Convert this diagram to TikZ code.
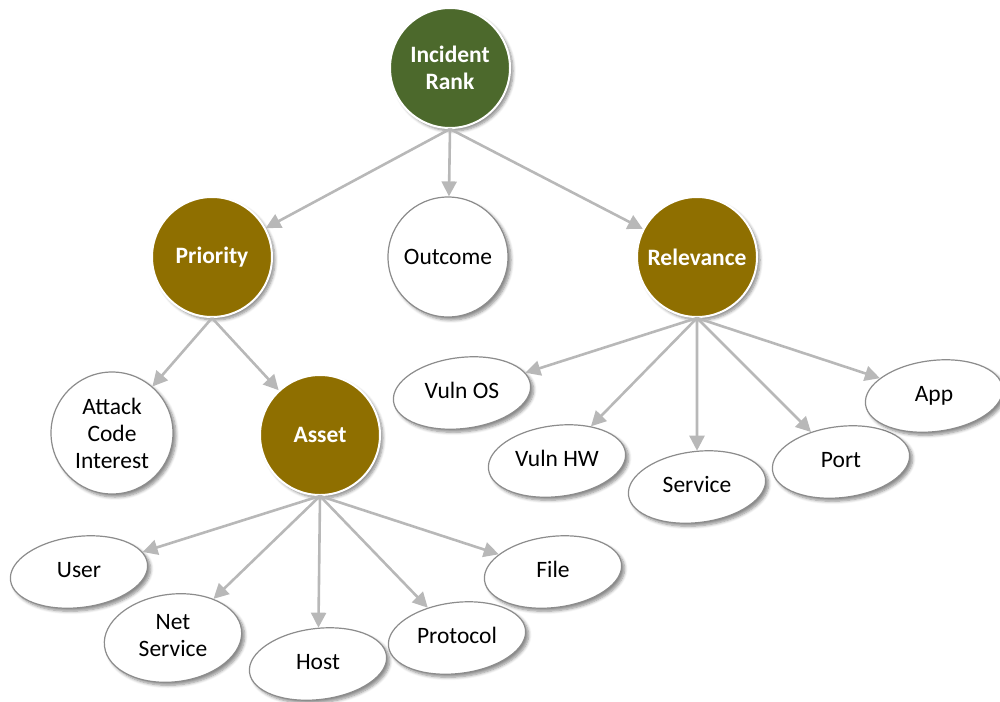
\documentclass[tikz,border=0pt]{standalone}
\usepackage{fontspec}
\setmainfont{Carlito}
\usetikzlibrary{shapes.geometric,arrows.meta,shadows.blur}
\definecolor{rankgreen}{RGB}{76,105,44}
\definecolor{olivegold}{RGB}{143,111,0}
\definecolor{edgegray}{RGB}{184,184,184}
\definecolor{bordergray}{RGB}{140,140,140}
\newcommand\elab[1]{\rotatebox{-7}{\begin{tabular}{@{}c@{}}#1\end{tabular}}}
\tikzset{
  base/.style={inner sep=0pt, align=center, font={\fontsize{23.5}{27}\selectfont},
    blur shadow={shadow xshift=3pt, shadow yshift=-3pt, shadow blur steps=6, shadow blur radius=3pt, shadow opacity=45}},
  dark/.style={base, circle, minimum size=120pt, draw=white, line width=2pt, text=white, font={\fontsize{23.5}{27}\selectfont\bfseries}},
  greencirc/.style={dark, fill=rankgreen},
  goldcirc/.style={dark, fill=olivegold},
  whitecirc/.style={base, circle, minimum size=120pt, draw=bordergray, line width=1.2pt, fill=white},
  ell/.style={base, ellipse, minimum width=138pt, minimum height=71pt, draw=bordergray, line width=1.2pt, fill=white, rotate=7},
  edge/.style={draw=edgegray, line width=2.6pt, -{Triangle[length=15pt,width=15pt]}}
}
\begin{document}
\begin{tikzpicture}[x=1pt,y=-1pt]
\useasboundingbox (0,0) rectangle (1000,701);
% nodes
\node[greencirc] (rank) at (450,68) {Incident\\Rank};
\node[goldcirc] (prio) at (212,257) {Priority};
\node[whitecirc] (out) at (448,257) {Outcome};
\node[goldcirc] (rel) at (697,257) {Relevance};
\node[whitecirc, minimum size=122pt] (att) at (112,433) {Attack\\Code\\Interest};
\node[goldcirc] (asset) at (320,435) {Asset};
% relevance children
\node[ell] (vos) at (462,393) {\elab{Vuln OS}};
\node[ell] (vhw) at (557,461) {\elab{Vuln HW}};
\node[ell] (svc) at (697,487) {\elab{Service}};
\node[ell] (port) at (841,462) {\elab{Port}};
\node[ell] (app) at (934,396) {\elab{App}};
% asset children
\node[ell] (user) at (79,572) {\elab{User}};
\node[ell] (net) at (173,638) {\elab{Net\\Service}};
\node[ell] (host) at (318,664) {\elab{Host}};
\node[ell] (proto) at (457,638) {\elab{Protocol}};
\node[ell] (file) at (553,572) {\elab{File}};
% edges
\draw[edge] (rank.south) -- (prio);
\draw[edge] (rank.south) -- (out);
\draw[edge] (rank.south) -- (rel);
\draw[edge] (prio.south) -- (att);
\draw[edge] (prio.south) -- (asset);
\foreach \t in {vos,vhw,svc,port,app} \draw[edge] (rel.south) -- (\t);
\foreach \t in {user,net,host,proto,file} \draw[edge] (asset.south) -- (\t);
\end{tikzpicture}
\end{document}
